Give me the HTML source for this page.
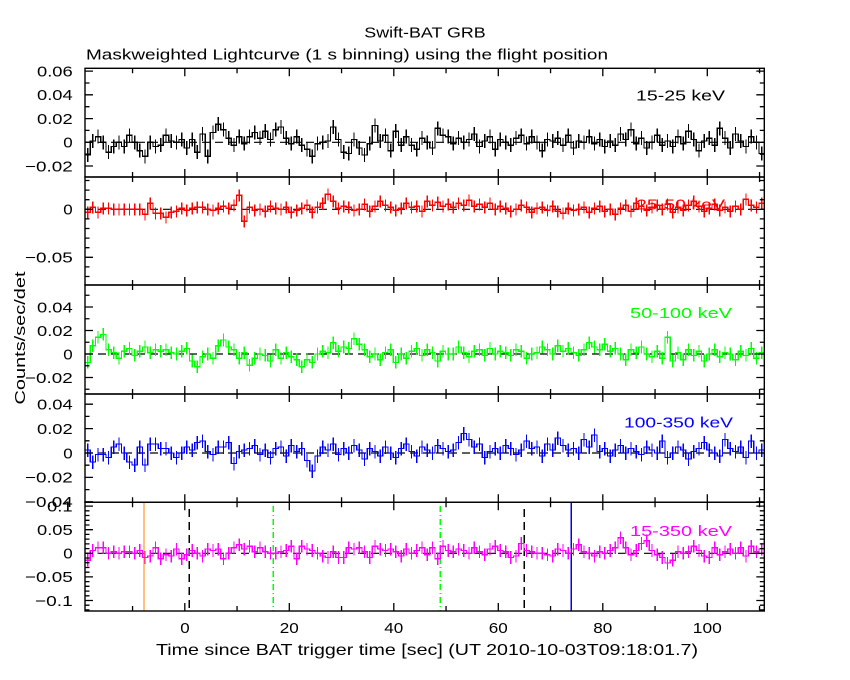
<!DOCTYPE html>
<html><head><meta charset="utf-8"><style>
html,body{margin:0;padding:0;background:#fff;}
svg{display:block;}
text{font-family:"Liberation Sans",sans-serif;font-size:15px;}
.d{fill:none;stroke-width:1.3;shape-rendering:crispEdges;}
</style></head><body>
<svg width="850" height="680" viewBox="0 0 850 680" xmlns="http://www.w3.org/2000/svg">
<rect x="0" y="0" width="850" height="680" fill="#fff"/>
<defs>
<clipPath id="c1"><rect x="85" y="68.3" width="679.3" height="108.7"/></clipPath>
<clipPath id="c2"><rect x="85" y="177" width="679.3" height="108"/></clipPath>
<clipPath id="c3"><rect x="85" y="285" width="679.3" height="109"/></clipPath>
<clipPath id="c4"><rect x="85" y="394" width="679.3" height="108.3"/></clipPath>
<clipPath id="c5"><rect x="85" y="502.3" width="679.3" height="108.7"/></clipPath>
</defs>

<!-- titles -->
<text x="364.3" y="37.3" textLength="121.4" lengthAdjust="spacingAndGlyphs">Swift-BAT GRB</text>
<text x="86" y="59.5" textLength="522" lengthAdjust="spacingAndGlyphs">Maskweighted Lightcurve (1 s binning) using the flight position</text>
<text x="156" y="655" textLength="542" lengthAdjust="spacingAndGlyphs" style="font-size:16px">Time since BAT trigger time [sec] (UT 2010-10-03T09:18:01.7)</text>
<text transform="translate(25,338) rotate(-90)" x="-66.5" y="0" textLength="133" lengthAdjust="spacingAndGlyphs">Counts/sec/det</text>

<!-- zero dashed lines -->
<g stroke="#000" stroke-width="1.2" stroke-dasharray="8 5">
<line x1="85" y1="142.3" x2="764.3" y2="142.3"/>
<line x1="85" y1="209.3" x2="764.3" y2="209.3"/>
<line x1="85" y1="354" x2="764.3" y2="354"/>
<line x1="85" y1="453" x2="764.3" y2="453"/>
<line x1="85" y1="553.3" x2="764.3" y2="553.3"/>
</g>

<!-- Panel 1 data -->
<g clip-path="url(#c1)"><g transform="translate(85,142.3) scale(5.225,-1.4)" stroke="#000">
<path class="d" vector-effect="non-scaling-stroke" d="M0,-9H1V1H2V4H3V0H4V-7H5V-3H6V0H7V-3H8V5H9V0H10V-6H11V-10H12V0H13V-3H14V-2H15V5H16V1H17V0H18V2H19V-4H20V2H21V-7H22V6H23V-10H24V7H25V13H26V9H27V3H28V-2H29V4H30V-1H31V4H32V7H33V3H34V8H35V2H36V9H37V11H38V3H39V-1H40V4H41V-2H42V-5H43V-10H44V-1H45V0H46V1H47V11H48V2H49V-7H50V-8H51V2H52V-4H53V-9H54V-1H55V12H56V1H57V5H58V-6H59V8H60V-2H61V4H62V-2H63V-5H64V3H65V0H66V-4H67V10H68V5H69V4H70V-1H71V3H72V0H73V2H74V6H75V-3H76V1H77V4H78V-5H79V2H80V0H81V-2H82V3H83V5H84V-1H85V4H86V0H87V-6H88V2H89V1H90V3H91V-2H92V5H93V-4H94V1H95V0H96V4H97V-1H98V2H99V-3H100V1H101V-2H102V6H103V2H104V9H105V-1H106V3H107V-4H108V0H109V5H110V-2H111V1H112V-3H113V4H114V-1H115V8H116V2H117V-6H118V1H119V3H120V-2H121V10H122V3H123V-4H124V6H125V1H126V-3H127V4H128V0H129V-8H130"/>
<path class="d" vector-effect="non-scaling-stroke" d="M0.5,-9m0-5v10M1.5,1m0-5v10M2.5,4m0-5v10M3.5,0m0-5v10M4.5,-7m0-5v10M5.5,-3m0-5v10M6.5,0m0-5v10M7.5,-3m0-5v10M8.5,5m0-5v10M9.5,0m0-5v10M10.5,-6m0-5v10M11.5,-10m0-5v10M12.5,0m0-5v10M13.5,-3m0-5v10M14.5,-2m0-5v10M15.5,5m0-5v10M16.5,1m0-5v10M17.5,0m0-5v10M18.5,2m0-5v10M19.5,-4m0-5v10M20.5,2m0-5v10M21.5,-7m0-5v10M22.5,6m0-5v10M23.5,-10m0-5v10M24.5,7m0-5v10M25.5,13m0-5v10M26.5,9m0-5v10M27.5,3m0-5v10M28.5,-2m0-5v10M29.5,4m0-5v10M30.5,-1m0-5v10M31.5,4m0-5v10M32.5,7m0-5v10M33.5,3m0-5v10M34.5,8m0-5v10M35.5,2m0-5v10M36.5,9m0-5v10M37.5,11m0-5v10M38.5,3m0-5v10M39.5,-1m0-5v10M40.5,4m0-5v10M41.5,-2m0-5v10M42.5,-5m0-5v10M43.5,-10m0-5v10M44.5,-1m0-5v10M45.5,0m0-5v10M46.5,1m0-5v10M47.5,11m0-5v10M48.5,2m0-5v10M49.5,-7m0-5v10M50.5,-8m0-5v10M51.5,2m0-5v10M52.5,-4m0-5v10M53.5,-9m0-5v10M54.5,-1m0-5v10M55.5,12m0-5v10M56.5,1m0-5v10M57.5,5m0-5v10M58.5,-6m0-5v10M59.5,8m0-5v10M60.5,-2m0-5v10M61.5,4m0-5v10M62.5,-2m0-5v10M63.5,-5m0-5v10M64.5,3m0-5v10M65.5,0m0-5v10M66.5,-4m0-5v10M67.5,10m0-5v10M68.5,5m0-5v10M69.5,4m0-5v10M70.5,-1m0-5v10M71.5,3m0-5v10M72.5,0m0-5v10M73.5,2m0-5v10M74.5,6m0-5v10M75.5,-3m0-5v10M76.5,1m0-5v10M77.5,4m0-5v10M78.5,-5m0-5v10M79.5,2m0-5v10M80.5,0m0-5v10M81.5,-2m0-5v10M82.5,3m0-5v10M83.5,5m0-5v10M84.5,-1m0-5v10M85.5,4m0-5v10M86.5,0m0-5v10M87.5,-6m0-5v10M88.5,2m0-5v10M89.5,1m0-5v10M90.5,3m0-5v10M91.5,-2m0-5v10M92.5,5m0-5v10M93.5,-4m0-5v10M94.5,1m0-5v10M95.5,0m0-5v10M96.5,4m0-5v10M97.5,-1m0-5v10M98.5,2m0-5v10M99.5,-3m0-5v10M100.5,1m0-5v10M101.5,-2m0-5v10M102.5,6m0-5v10M103.5,2m0-5v10M104.5,9m0-5v10M105.5,-1m0-5v10M106.5,3m0-5v10M107.5,-4m0-5v10M108.5,0m0-5v10M109.5,5m0-5v10M110.5,-2m0-5v10M111.5,1m0-5v10M112.5,-3m0-5v10M113.5,4m0-5v10M114.5,-1m0-5v10M115.5,8m0-5v10M116.5,2m0-5v10M117.5,-6m0-5v10M118.5,1m0-5v10M119.5,3m0-5v10M120.5,-2m0-5v10M121.5,10m0-5v10M122.5,3m0-5v10M123.5,-4m0-5v10M124.5,6m0-5v10M125.5,1m0-5v10M126.5,-3m0-5v10M127.5,4m0-5v10M128.5,0m0-5v10M129.5,-8m0-5v10"/>
</g></g>

<!-- Panel 2 data -->
<g clip-path="url(#c2)"><g transform="translate(85,209.3) scale(5.225,-1)" stroke="#ff0000">
<path class="d" vector-effect="non-scaling-stroke" d="M0,-3H1V2H2V-3H3V1H4V1H5V0H6V0H7V0H8V0H9V0H10V0H11V-5H12V6H13V-4H14V-4H15V-8H16V-3H17V-2H18V1H19V-1H20V1H21V2H22V2H23V0H24V-1H25V1H26V3H27V1H28V4H29V14H30V-12H31V2H32V-1H33V0H34V-2H35V3H36V1H37V0H38V2H39V-3H40V-1H41V1H42V4H43V-3H44V2H45V6H46V15H47V8H48V1H49V3H50V2H51V-1H52V0H53V5H54V-2H55V3H56V8H57V4H58V2H59V-1H60V1H61V6H62V2H63V3H64V-2H65V8H66V4H67V7H68V3H69V5H70V2H71V6H72V4H73V9H74V3H75V5H76V2H77V6H78V0H79V3H80V1H81V-2H82V0H83V4H84V2H85V-3H86V1H87V2H88V-1H89V3H90V-2H91V-4H92V1H93V-1H94V0H95V2H96V-3H97V1H98V3H99V-2H100V0H101V-5H102V1H103V4H104V-2H105V6H106V3H107V-1H108V2H109V4H110V0H111V5H112V-3H113V2H114V-1H115V4H116V8H117V3H118V-2H119V1H120V5H121V-1H122V2H123V-2H124V3H125V0H126V10H127V4H128V2H129V6H130"/>
<path class="d" vector-effect="non-scaling-stroke" d="M0.5,-3m0-6v12M1.5,2m0-6v12M2.5,-3m0-6v12M3.5,1m0-6v12M4.5,1m0-6v12M5.5,0m0-6v12M6.5,0m0-6v12M7.5,0m0-6v12M8.5,0m0-6v12M9.5,0m0-6v12M10.5,0m0-6v12M11.5,-5m0-6v12M12.5,6m0-6v12M13.5,-4m0-6v12M14.5,-4m0-6v12M15.5,-8m0-6v12M16.5,-3m0-6v12M17.5,-2m0-6v12M18.5,1m0-6v12M19.5,-1m0-6v12M20.5,1m0-6v12M21.5,2m0-6v12M22.5,2m0-6v12M23.5,0m0-6v12M24.5,-1m0-6v12M25.5,1m0-6v12M26.5,3m0-6v12M27.5,1m0-6v12M28.5,4m0-6v12M29.5,14m0-6v12M30.5,-12m0-6v12M31.5,2m0-6v12M32.5,-1m0-6v12M33.5,0m0-6v12M34.5,-2m0-6v12M35.5,3m0-6v12M36.5,1m0-6v12M37.5,0m0-6v12M38.5,2m0-6v12M39.5,-3m0-6v12M40.5,-1m0-6v12M41.5,1m0-6v12M42.5,4m0-6v12M43.5,-3m0-6v12M44.5,2m0-6v12M45.5,6m0-6v12M46.5,15m0-6v12M47.5,8m0-6v12M48.5,1m0-6v12M49.5,3m0-6v12M50.5,2m0-6v12M51.5,-1m0-6v12M52.5,0m0-6v12M53.5,5m0-6v12M54.5,-2m0-6v12M55.5,3m0-6v12M56.5,8m0-6v12M57.5,4m0-6v12M58.5,2m0-6v12M59.5,-1m0-6v12M60.5,1m0-6v12M61.5,6m0-6v12M62.5,2m0-6v12M63.5,3m0-6v12M64.5,-2m0-6v12M65.5,8m0-6v12M66.5,4m0-6v12M67.5,7m0-6v12M68.5,3m0-6v12M69.5,5m0-6v12M70.5,2m0-6v12M71.5,6m0-6v12M72.5,4m0-6v12M73.5,9m0-6v12M74.5,3m0-6v12M75.5,5m0-6v12M76.5,2m0-6v12M77.5,6m0-6v12M78.5,0m0-6v12M79.5,3m0-6v12M80.5,1m0-6v12M81.5,-2m0-6v12M82.5,0m0-6v12M83.5,4m0-6v12M84.5,2m0-6v12M85.5,-3m0-6v12M86.5,1m0-6v12M87.5,2m0-6v12M88.5,-1m0-6v12M89.5,3m0-6v12M90.5,-2m0-6v12M91.5,-4m0-6v12M92.5,1m0-6v12M93.5,-1m0-6v12M94.5,0m0-6v12M95.5,2m0-6v12M96.5,-3m0-6v12M97.5,1m0-6v12M98.5,3m0-6v12M99.5,-2m0-6v12M100.5,0m0-6v12M101.5,-5m0-6v12M102.5,1m0-6v12M103.5,4m0-6v12M104.5,-2m0-6v12M105.5,6m0-6v12M106.5,3m0-6v12M107.5,-1m0-6v12M108.5,2m0-6v12M109.5,4m0-6v12M110.5,0m0-6v12M111.5,5m0-6v12M112.5,-3m0-6v12M113.5,2m0-6v12M114.5,-1m0-6v12M115.5,4m0-6v12M116.5,8m0-6v12M117.5,3m0-6v12M118.5,-2m0-6v12M119.5,1m0-6v12M120.5,5m0-6v12M121.5,-1m0-6v12M122.5,2m0-6v12M123.5,-2m0-6v12M124.5,3m0-6v12M125.5,0m0-6v12M126.5,10m0-6v12M127.5,4m0-6v12M128.5,2m0-6v12M129.5,6m0-6v12"/>
</g></g>

<!-- Panel 3 data -->
<g clip-path="url(#c3)"><g transform="translate(85,354) scale(5.225,-1.4)" stroke="#00ff00">
<path class="d" vector-effect="non-scaling-stroke" d="M0,-6H1V6H2V12H3V14H4V3H5V1H6V-3H7V2H8V4H9V-1H10V2H11V5H12V1H13V3H14V2H15V3H16V1H17V0H18V2H19V4H20V-5H21V-9H22V-2H23V0H24V-3H25V6H26V10H27V5H28V3H29V-3H30V1H31V-8H32V-3H33V0H34V-1H35V-5H36V3H37V-3H38V1H39V-2H40V-4H41V-9H42V-4H43V-6H44V0H45V2H46V1H47V8H48V2H49V5H50V4H51V11H52V7H53V3H54V-2H55V0H56V-4H57V1H58V3H59V-6H60V0H61V-3H62V2H63V4H64V-1H65V3H66V1H67V-5H68V2H69V0H70V0H71V5H72V1H73V-2H74V2H75V3H76V-1H77V4H78V0H79V2H80V1H81V-1H82V3H83V2H84V-3H85V0H86V1H87V5H88V3H89V0H90V6H91V2H92V4H93V1H94V-1H95V3H96V8H97V5H98V3H99V7H100V2H101V4H102V0H103V-4H104V3H105V1H106V5H107V0H108V-2H109V2H110V-3H111V12H112V-5H113V1H114V-4H115V3H116V-1H117V2H118V-5H119V0H120V3H121V-2H122V1H123V0H124V-4H125V2H126V-1H127V4H128V-3H129V1H130"/>
<path class="d" vector-effect="non-scaling-stroke" d="M0.5,-6m0-4.5v9M1.5,6m0-4.5v9M2.5,12m0-4.5v9M3.5,14m0-4.5v9M4.5,3m0-4.5v9M5.5,1m0-4.5v9M6.5,-3m0-4.5v9M7.5,2m0-4.5v9M8.5,4m0-4.5v9M9.5,-1m0-4.5v9M10.5,2m0-4.5v9M11.5,5m0-4.5v9M12.5,1m0-4.5v9M13.5,3m0-4.5v9M14.5,2m0-4.5v9M15.5,3m0-4.5v9M16.5,1m0-4.5v9M17.5,0m0-4.5v9M18.5,2m0-4.5v9M19.5,4m0-4.5v9M20.5,-5m0-4.5v9M21.5,-9m0-4.5v9M22.5,-2m0-4.5v9M23.5,0m0-4.5v9M24.5,-3m0-4.5v9M25.5,6m0-4.5v9M26.5,10m0-4.5v9M27.5,5m0-4.5v9M28.5,3m0-4.5v9M29.5,-3m0-4.5v9M30.5,1m0-4.5v9M31.5,-8m0-4.5v9M32.5,-3m0-4.5v9M33.5,0m0-4.5v9M34.5,-1m0-4.5v9M35.5,-5m0-4.5v9M36.5,3m0-4.5v9M37.5,-3m0-4.5v9M38.5,1m0-4.5v9M39.5,-2m0-4.5v9M40.5,-4m0-4.5v9M41.5,-9m0-4.5v9M42.5,-4m0-4.5v9M43.5,-6m0-4.5v9M44.5,0m0-4.5v9M45.5,2m0-4.5v9M46.5,1m0-4.5v9M47.5,8m0-4.5v9M48.5,2m0-4.5v9M49.5,5m0-4.5v9M50.5,4m0-4.5v9M51.5,11m0-4.5v9M52.5,7m0-4.5v9M53.5,3m0-4.5v9M54.5,-2m0-4.5v9M55.5,0m0-4.5v9M56.5,-4m0-4.5v9M57.5,1m0-4.5v9M58.5,3m0-4.5v9M59.5,-6m0-4.5v9M60.5,0m0-4.5v9M61.5,-3m0-4.5v9M62.5,2m0-4.5v9M63.5,4m0-4.5v9M64.5,-1m0-4.5v9M65.5,3m0-4.5v9M66.5,1m0-4.5v9M67.5,-5m0-4.5v9M68.5,2m0-4.5v9M69.5,0m0-4.5v9M70.5,0m0-4.5v9M71.5,5m0-4.5v9M72.5,1m0-4.5v9M73.5,-2m0-4.5v9M74.5,2m0-4.5v9M75.5,3m0-4.5v9M76.5,-1m0-4.5v9M77.5,4m0-4.5v9M78.5,0m0-4.5v9M79.5,2m0-4.5v9M80.5,1m0-4.5v9M81.5,-1m0-4.5v9M82.5,3m0-4.5v9M83.5,2m0-4.5v9M84.5,-3m0-4.5v9M85.5,0m0-4.5v9M86.5,1m0-4.5v9M87.5,5m0-4.5v9M88.5,3m0-4.5v9M89.5,0m0-4.5v9M90.5,6m0-4.5v9M91.5,2m0-4.5v9M92.5,4m0-4.5v9M93.5,1m0-4.5v9M94.5,-1m0-4.5v9M95.5,3m0-4.5v9M96.5,8m0-4.5v9M97.5,5m0-4.5v9M98.5,3m0-4.5v9M99.5,7m0-4.5v9M100.5,2m0-4.5v9M101.5,4m0-4.5v9M102.5,0m0-4.5v9M103.5,-4m0-4.5v9M104.5,3m0-4.5v9M105.5,1m0-4.5v9M106.5,5m0-4.5v9M107.5,0m0-4.5v9M108.5,-2m0-4.5v9M109.5,2m0-4.5v9M110.5,-3m0-4.5v9M111.5,12m0-4.5v9M112.5,-5m0-4.5v9M113.5,1m0-4.5v9M114.5,-4m0-4.5v9M115.5,3m0-4.5v9M116.5,-1m0-4.5v9M117.5,2m0-4.5v9M118.5,-5m0-4.5v9M119.5,0m0-4.5v9M120.5,3m0-4.5v9M121.5,-2m0-4.5v9M122.5,1m0-4.5v9M123.5,0m0-4.5v9M124.5,-4m0-4.5v9M125.5,2m0-4.5v9M126.5,-1m0-4.5v9M127.5,4m0-4.5v9M128.5,-3m0-4.5v9M129.5,1m0-4.5v9"/>
</g></g>

<!-- Panel 4 data -->
<g clip-path="url(#c4)"><g transform="translate(85,453) scale(5.225,-1.5)" stroke="#0000ff">
<path class="d" vector-effect="non-scaling-stroke" d="M0,2H1V-6H2V-1H3V-1H4V-3H5V4H6V6H7V0H8V-6H9V-8H10V4H11V-8H12V6H13V6H14V3H15V3H16V0H17V-3H18V0H19V4H20V2H21V7H22V8H23V1H24V-1H25V4H26V4H27V7H28V-7H29V1H30V2H31V3H32V5H33V-1H34V2H35V-3H36V3H37V4H38V-2H39V5H40V1H41V3H42V-5H43V-12H44V-2H45V4H46V2H47V6H48V-1H49V3H50V0H51V5H52V2H53V-4H54V3H55V1H56V-2H57V4H58V0H59V-3H60V3H61V6H62V1H63V-2H64V4H65V2H66V0H67V5H68V3H69V1H70V2H71V7H72V13H73V9H74V4H75V6H76V-3H77V1H78V3H79V0H80V5H81V3H82V-1H83V2H84V8H85V3H86V4H87V-2H88V6H89V2H90V10H91V5H92V2H93V3H94V0H95V9H96V4H97V12H98V1H99V3H100V-2H101V2H102V5H103V0H104V3H105V1H106V-1H107V4H108V2H109V0H110V8H111V-3H112V0H113V4H114V2H115V-4H116V1H117V3H118V7H119V2H120V0H121V-2H122V9H123V3H124V1H125V4H126V-3H127V8H128V0H129V2H130"/>
<path class="d" vector-effect="non-scaling-stroke" d="M0.5,2m0-4.5v9M1.5,-6m0-4.5v9M2.5,-1m0-4.5v9M3.5,-1m0-4.5v9M4.5,-3m0-4.5v9M5.5,4m0-4.5v9M6.5,6m0-4.5v9M7.5,0m0-4.5v9M8.5,-6m0-4.5v9M9.5,-8m0-4.5v9M10.5,4m0-4.5v9M11.5,-8m0-4.5v9M12.5,6m0-4.5v9M13.5,6m0-4.5v9M14.5,3m0-4.5v9M15.5,3m0-4.5v9M16.5,0m0-4.5v9M17.5,-3m0-4.5v9M18.5,0m0-4.5v9M19.5,4m0-4.5v9M20.5,2m0-4.5v9M21.5,7m0-4.5v9M22.5,8m0-4.5v9M23.5,1m0-4.5v9M24.5,-1m0-4.5v9M25.5,4m0-4.5v9M26.5,4m0-4.5v9M27.5,7m0-4.5v9M28.5,-7m0-4.5v9M29.5,1m0-4.5v9M30.5,2m0-4.5v9M31.5,3m0-4.5v9M32.5,5m0-4.5v9M33.5,-1m0-4.5v9M34.5,2m0-4.5v9M35.5,-3m0-4.5v9M36.5,3m0-4.5v9M37.5,4m0-4.5v9M38.5,-2m0-4.5v9M39.5,5m0-4.5v9M40.5,1m0-4.5v9M41.5,3m0-4.5v9M42.5,-5m0-4.5v9M43.5,-12m0-4.5v9M44.5,-2m0-4.5v9M45.5,4m0-4.5v9M46.5,2m0-4.5v9M47.5,6m0-4.5v9M48.5,-1m0-4.5v9M49.5,3m0-4.5v9M50.5,0m0-4.5v9M51.5,5m0-4.5v9M52.5,2m0-4.5v9M53.5,-4m0-4.5v9M54.5,3m0-4.5v9M55.5,1m0-4.5v9M56.5,-2m0-4.5v9M57.5,4m0-4.5v9M58.5,0m0-4.5v9M59.5,-3m0-4.5v9M60.5,3m0-4.5v9M61.5,6m0-4.5v9M62.5,1m0-4.5v9M63.5,-2m0-4.5v9M64.5,4m0-4.5v9M65.5,2m0-4.5v9M66.5,0m0-4.5v9M67.5,5m0-4.5v9M68.5,3m0-4.5v9M69.5,1m0-4.5v9M70.5,2m0-4.5v9M71.5,7m0-4.5v9M72.5,13m0-4.5v9M73.5,9m0-4.5v9M74.5,4m0-4.5v9M75.5,6m0-4.5v9M76.5,-3m0-4.5v9M77.5,1m0-4.5v9M78.5,3m0-4.5v9M79.5,0m0-4.5v9M80.5,5m0-4.5v9M81.5,3m0-4.5v9M82.5,-1m0-4.5v9M83.5,2m0-4.5v9M84.5,8m0-4.5v9M85.5,3m0-4.5v9M86.5,4m0-4.5v9M87.5,-2m0-4.5v9M88.5,6m0-4.5v9M89.5,2m0-4.5v9M90.5,10m0-4.5v9M91.5,5m0-4.5v9M92.5,2m0-4.5v9M93.5,3m0-4.5v9M94.5,0m0-4.5v9M95.5,9m0-4.5v9M96.5,4m0-4.5v9M97.5,12m0-4.5v9M98.5,1m0-4.5v9M99.5,3m0-4.5v9M100.5,-2m0-4.5v9M101.5,2m0-4.5v9M102.5,5m0-4.5v9M103.5,0m0-4.5v9M104.5,3m0-4.5v9M105.5,1m0-4.5v9M106.5,-1m0-4.5v9M107.5,4m0-4.5v9M108.5,2m0-4.5v9M109.5,0m0-4.5v9M110.5,8m0-4.5v9M111.5,-3m0-4.5v9M112.5,0m0-4.5v9M113.5,4m0-4.5v9M114.5,2m0-4.5v9M115.5,-4m0-4.5v9M116.5,1m0-4.5v9M117.5,3m0-4.5v9M118.5,7m0-4.5v9M119.5,2m0-4.5v9M120.5,0m0-4.5v9M121.5,-2m0-4.5v9M122.5,9m0-4.5v9M123.5,3m0-4.5v9M124.5,1m0-4.5v9M125.5,4m0-4.5v9M126.5,-3m0-4.5v9M127.5,8m0-4.5v9M128.5,0m0-4.5v9M129.5,2m0-4.5v9"/>
</g></g>

<!-- Panel 5 vertical marker lines -->
<g stroke-width="1.2" shape-rendering="crispEdges">
<line x1="144" y1="502.3" x2="144" y2="611" stroke="#ff8000"/>
<line x1="189.3" y1="509" x2="189.3" y2="611" stroke="#000" stroke-dasharray="8 5"/>
<line x1="273.3" y1="506" x2="273.3" y2="611" stroke="#00ff00" stroke-dasharray="6 3 1 3"/>
<line x1="440.3" y1="506" x2="440.3" y2="611" stroke="#00ff00" stroke-dasharray="6 3 1 3"/>
<line x1="524.3" y1="509" x2="524.3" y2="611" stroke="#000" stroke-dasharray="8 5"/>
<line x1="571.3" y1="502.3" x2="571.3" y2="611" stroke="#0000ff"/>
</g>

<!-- Panel 5 data -->
<g clip-path="url(#c5)"><g transform="translate(85,553.3) scale(5.225,-1.4)" stroke="#ff00ff">
<path class="d" vector-effect="non-scaling-stroke" d="M0,-5H1V2H2V4H3V4H4V0H5V1H6V0H7V1H8V1H9V0H10V2H11V-3H12V-2H13V4H14V-4H15V-1H16V-2H17V3H18V-4H19V-1H20V2H21V0H22V-2H23V3H24V2H25V3H26V-4H27V0H28V4H29V6H30V3H31V5H32V1H33V4H34V1H35V0H36V0H37V1H38V2H39V5H40V-4H41V5H42V3H43V2H44V0H45V-2H46V-3H47V1H48V-3H49V-3H50V4H51V3H52V4H53V1H54V-3H55V5H56V3H57V2H58V3H59V1H60V-2H61V3H62V0H63V2H64V4H65V-1H66V4H67V-4H68V5H69V2H70V1H71V3H72V2H73V0H74V4H75V1H76V-1H77V3H78V5H79V2H80V1H81V-3H82V-2H83V7H84V2H85V1H86V0H87V0H88V-1H89V-2H90V3H91V2H92V0H93V3H94V6H95V1H96V0H97V-2H98V1H99V0H100V2H101V4H102V11H103V4H104V-1H105V2H106V7H107V9H108V2H109V-1H110V-3H111V-7H112V-5H113V1H114V0H115V1H116V5H117V2H118V-2H119V-3H120V4H121V-1H122V1H123V3H124V0H125V4H126V-2H127V5H128V1H129V3H130"/>
<path class="d" vector-effect="non-scaling-stroke" d="M0.5,-5m0-4.5v9M1.5,2m0-4.5v9M2.5,4m0-4.5v9M3.5,4m0-4.5v9M4.5,0m0-4.5v9M5.5,1m0-4.5v9M6.5,0m0-4.5v9M7.5,1m0-4.5v9M8.5,1m0-4.5v9M9.5,0m0-4.5v9M10.5,2m0-4.5v9M11.5,-3m0-4.5v9M12.5,-2m0-4.5v9M13.5,4m0-4.5v9M14.5,-4m0-4.5v9M15.5,-1m0-4.5v9M16.5,-2m0-4.5v9M17.5,3m0-4.5v9M18.5,-4m0-4.5v9M19.5,-1m0-4.5v9M20.5,2m0-4.5v9M21.5,0m0-4.5v9M22.5,-2m0-4.5v9M23.5,3m0-4.5v9M24.5,2m0-4.5v9M25.5,3m0-4.5v9M26.5,-4m0-4.5v9M27.5,0m0-4.5v9M28.5,4m0-4.5v9M29.5,6m0-4.5v9M30.5,3m0-4.5v9M31.5,5m0-4.5v9M32.5,1m0-4.5v9M33.5,4m0-4.5v9M34.5,1m0-4.5v9M35.5,0m0-4.5v9M36.5,0m0-4.5v9M37.5,1m0-4.5v9M38.5,2m0-4.5v9M39.5,5m0-4.5v9M40.5,-4m0-4.5v9M41.5,5m0-4.5v9M42.5,3m0-4.5v9M43.5,2m0-4.5v9M44.5,0m0-4.5v9M45.5,-2m0-4.5v9M46.5,-3m0-4.5v9M47.5,1m0-4.5v9M48.5,-3m0-4.5v9M49.5,-3m0-4.5v9M50.5,4m0-4.5v9M51.5,3m0-4.5v9M52.5,4m0-4.5v9M53.5,1m0-4.5v9M54.5,-3m0-4.5v9M55.5,5m0-4.5v9M56.5,3m0-4.5v9M57.5,2m0-4.5v9M58.5,3m0-4.5v9M59.5,1m0-4.5v9M60.5,-2m0-4.5v9M61.5,3m0-4.5v9M62.5,0m0-4.5v9M63.5,2m0-4.5v9M64.5,4m0-4.5v9M65.5,-1m0-4.5v9M66.5,4m0-4.5v9M67.5,-4m0-4.5v9M68.5,5m0-4.5v9M69.5,2m0-4.5v9M70.5,1m0-4.5v9M71.5,3m0-4.5v9M72.5,2m0-4.5v9M73.5,0m0-4.5v9M74.5,4m0-4.5v9M75.5,1m0-4.5v9M76.5,-1m0-4.5v9M77.5,3m0-4.5v9M78.5,5m0-4.5v9M79.5,2m0-4.5v9M80.5,1m0-4.5v9M81.5,-3m0-4.5v9M82.5,-2m0-4.5v9M83.5,7m0-4.5v9M84.5,2m0-4.5v9M85.5,1m0-4.5v9M86.5,0m0-4.5v9M87.5,0m0-4.5v9M88.5,-1m0-4.5v9M89.5,-2m0-4.5v9M90.5,3m0-4.5v9M91.5,2m0-4.5v9M92.5,0m0-4.5v9M93.5,3m0-4.5v9M94.5,6m0-4.5v9M95.5,1m0-4.5v9M96.5,0m0-4.5v9M97.5,-2m0-4.5v9M98.5,1m0-4.5v9M99.5,0m0-4.5v9M100.5,2m0-4.5v9M101.5,4m0-4.5v9M102.5,11m0-4.5v9M103.5,4m0-4.5v9M104.5,-1m0-4.5v9M105.5,2m0-4.5v9M106.5,7m0-4.5v9M107.5,9m0-4.5v9M108.5,2m0-4.5v9M109.5,-1m0-4.5v9M110.5,-3m0-4.5v9M111.5,-7m0-4.5v9M112.5,-5m0-4.5v9M113.5,1m0-4.5v9M114.5,0m0-4.5v9M115.5,1m0-4.5v9M116.5,5m0-4.5v9M117.5,2m0-4.5v9M118.5,-2m0-4.5v9M119.5,-3m0-4.5v9M120.5,4m0-4.5v9M121.5,-1m0-4.5v9M122.5,1m0-4.5v9M123.5,3m0-4.5v9M124.5,0m0-4.5v9M125.5,4m0-4.5v9M126.5,-2m0-4.5v9M127.5,5m0-4.5v9M128.5,1m0-4.5v9M129.5,3m0-4.5v9"/>
</g></g>

<!-- frames -->
<g fill="none" stroke="#000" stroke-width="1.4">
<rect x="85" y="68.3" width="679.3" height="108.7"/>
<rect x="85" y="177" width="679.3" height="108"/>
<rect x="85" y="285" width="679.3" height="109"/>
<rect x="85" y="394" width="679.3" height="108.3"/>
<rect x="85" y="502.3" width="679.3" height="108.7"/>
</g>

<!-- x ticks -->
<path fill="none" stroke="#000" stroke-width="1.3" d="
M184.8,68.3v8M289.3,68.3v8M393.8,68.3v8M498.3,68.3v8M602.8,68.3v8M707.3,68.3v8
M132.55,68.3v5M237.05,68.3v5M341.55,68.3v5M446.05,68.3v5M550.55,68.3v5M655.05,68.3v5M759.55,68.3v5
M184.8,169v16M289.3,169v16M393.8,169v16M498.3,169v16M602.8,169v16M707.3,169v16
M132.55,172v10M237.05,172v10M341.55,172v10M446.05,172v10M550.55,172v10M655.05,172v10M759.55,172v10
M184.8,277v16M289.3,277v16M393.8,277v16M498.3,277v16M602.8,277v16M707.3,277v16
M132.55,280v10M237.05,280v10M341.55,280v10M446.05,280v10M550.55,280v10M655.05,280v10M759.55,280v10
M184.8,386v16M289.3,386v16M393.8,386v16M498.3,386v16M602.8,386v16M707.3,386v16
M132.55,389v10M237.05,389v10M341.55,389v10M446.05,389v10M550.55,389v10M655.05,389v10M759.55,389v10
M184.8,494.3v16M289.3,494.3v16M393.8,494.3v16M498.3,494.3v16M602.8,494.3v16M707.3,494.3v16
M132.55,497.3v10M237.05,497.3v10M341.55,497.3v10M446.05,497.3v10M550.55,497.3v10M655.05,497.3v10M759.55,497.3v10
M184.8,603v8M289.3,603v8M393.8,603v8M498.3,603v8M602.8,603v8M707.3,603v8
M132.55,606v5M237.05,606v5M341.55,606v5M446.05,606v5M550.55,606v5M655.05,606v5M759.55,606v5"/>

<!-- y ticks -->
<path fill="none" stroke="#000" stroke-width="1.3" d="
M85,71.1h8M764.3,71.1h-8M85,94.8h8M764.3,94.8h-8M85,118.6h8M764.3,118.6h-8M85,142.3h8M764.3,142.3h-8M85,166h8M764.3,166h-8
M85,83h4.5M764.3,83h-4.5M85,106.7h4.5M764.3,106.7h-4.5M85,130.4h4.5M764.3,130.4h-4.5M85,154.2h4.5M764.3,154.2h-4.5
M85,209.3h8M764.3,209.3h-8M85,257.3h8M764.3,257.3h-8
M85,180.5h4.5M764.3,180.5h-4.5M85,190.1h4.5M764.3,190.1h-4.5M85,199.7h4.5M764.3,199.7h-4.5M85,218.9h4.5M764.3,218.9h-4.5M85,228.5h4.5M764.3,228.5h-4.5M85,238.1h4.5M764.3,238.1h-4.5M85,247.7h4.5M764.3,247.7h-4.5M85,266.9h4.5M764.3,266.9h-4.5M85,276.5h4.5M764.3,276.5h-4.5
M85,307h8M764.3,307h-8M85,330.5h8M764.3,330.5h-8M85,354h8M764.3,354h-8M85,377.5h8M764.3,377.5h-8
M85,295.25h4.5M764.3,295.25h-4.5M85,318.75h4.5M764.3,318.75h-4.5M85,342.25h4.5M764.3,342.25h-4.5M85,365.75h4.5M764.3,365.75h-4.5M85,389.25h4.5M764.3,389.25h-4.5
M85,404.2h8M764.3,404.2h-8M85,428.6h8M764.3,428.6h-8M85,453h8M764.3,453h-8M85,477.4h8M764.3,477.4h-8M85,501.8h8M764.3,501.8h-8
M85,416.4h4.5M764.3,416.4h-4.5M85,440.8h4.5M764.3,440.8h-4.5M85,465.2h4.5M764.3,465.2h-4.5M85,489.6h4.5M764.3,489.6h-4.5
M85,506.1h8M764.3,506.1h-8M85,529.7h8M764.3,529.7h-8M85,553.3h8M764.3,553.3h-8M85,576.9h8M764.3,576.9h-8M85,600.5h8M764.3,600.5h-8
M85,510.8h4.5M764.3,510.8h-4.5M85,515.5h4.5M764.3,515.5h-4.5M85,520.3h4.5M764.3,520.3h-4.5M85,525h4.5M764.3,525h-4.5M85,534.4h4.5M764.3,534.4h-4.5M85,539.1h4.5M764.3,539.1h-4.5M85,543.9h4.5M764.3,543.9h-4.5M85,548.6h4.5M764.3,548.6h-4.5M85,558h4.5M764.3,558h-4.5M85,562.7h4.5M764.3,562.7h-4.5M85,567.5h4.5M764.3,567.5h-4.5M85,572.2h4.5M764.3,572.2h-4.5M85,581.6h4.5M764.3,581.6h-4.5M85,586.3h4.5M764.3,586.3h-4.5M85,591.1h4.5M764.3,591.1h-4.5M85,595.8h4.5M764.3,595.8h-4.5M85,605.2h4.5M764.3,605.2h-4.5M85,609.9h4.5M764.3,609.9h-4.5"/>

<!-- y tick labels -->
<g fill="#000">
<text x="37" y="76.4" textLength="35.7" lengthAdjust="spacingAndGlyphs">0.06</text>
<text x="37" y="100.1" textLength="35.7" lengthAdjust="spacingAndGlyphs">0.04</text>
<text x="37" y="123.9" textLength="35.7" lengthAdjust="spacingAndGlyphs">0.02</text>
<text x="63.3" y="147.6" textLength="9.4" lengthAdjust="spacingAndGlyphs">0</text>
<text x="25" y="171.3" textLength="47.7" lengthAdjust="spacingAndGlyphs">−0.02</text>

<text x="63.3" y="214.6" textLength="9.4" lengthAdjust="spacingAndGlyphs">0</text>
<text x="25" y="262.6" textLength="47.7" lengthAdjust="spacingAndGlyphs">−0.05</text>

<text x="37" y="312.3" textLength="35.7" lengthAdjust="spacingAndGlyphs">0.04</text>
<text x="37" y="335.8" textLength="35.7" lengthAdjust="spacingAndGlyphs">0.02</text>
<text x="63.3" y="359.3" textLength="9.4" lengthAdjust="spacingAndGlyphs">0</text>
<text x="25" y="382.8" textLength="47.7" lengthAdjust="spacingAndGlyphs">−0.02</text>

<text x="37" y="409.5" textLength="35.7" lengthAdjust="spacingAndGlyphs">0.04</text>
<text x="37" y="433.9" textLength="35.7" lengthAdjust="spacingAndGlyphs">0.02</text>
<text x="63.3" y="458.3" textLength="9.4" lengthAdjust="spacingAndGlyphs">0</text>
<text x="25" y="482.7" textLength="47.7" lengthAdjust="spacingAndGlyphs">−0.02</text>
<text x="25" y="507.1" textLength="47.7" lengthAdjust="spacingAndGlyphs">−0.04</text>

<text x="47" y="511.4" textLength="25.7" lengthAdjust="spacingAndGlyphs">0.1</text>
<text x="37" y="535" textLength="35.7" lengthAdjust="spacingAndGlyphs">0.05</text>
<text x="63.3" y="558.6" textLength="9.4" lengthAdjust="spacingAndGlyphs">0</text>
<text x="25" y="582.2" textLength="47.7" lengthAdjust="spacingAndGlyphs">−0.05</text>
<text x="35" y="605.8" textLength="37.7" lengthAdjust="spacingAndGlyphs">−0.1</text>
</g>

<!-- x tick labels -->
<g fill="#000">
<text x="180.3" y="633" textLength="9.4" lengthAdjust="spacingAndGlyphs">0</text>
<text x="279.8" y="633" textLength="19" lengthAdjust="spacingAndGlyphs">20</text>
<text x="384.3" y="633" textLength="19" lengthAdjust="spacingAndGlyphs">40</text>
<text x="488.8" y="633" textLength="19" lengthAdjust="spacingAndGlyphs">60</text>
<text x="593.3" y="633" textLength="19" lengthAdjust="spacingAndGlyphs">80</text>
<text x="692.8" y="633" textLength="29" lengthAdjust="spacingAndGlyphs">100</text>
</g>

<!-- panel labels -->
<text x="636" y="100.7" textLength="89" lengthAdjust="spacingAndGlyphs" fill="#000">15-25 keV</text>
<text x="636" y="209.5" textLength="89" lengthAdjust="spacingAndGlyphs" fill="#ff0000">25-50 keV</text>
<text x="630" y="318" textLength="102" lengthAdjust="spacingAndGlyphs" fill="#00ff00">50-100 keV</text>
<text x="624" y="427.5" textLength="109" lengthAdjust="spacingAndGlyphs" fill="#0000ff">100-350 keV</text>
<text x="630" y="536" textLength="102" lengthAdjust="spacingAndGlyphs" fill="#ff00ff">15-350 keV</text>
</svg>
</body></html>
